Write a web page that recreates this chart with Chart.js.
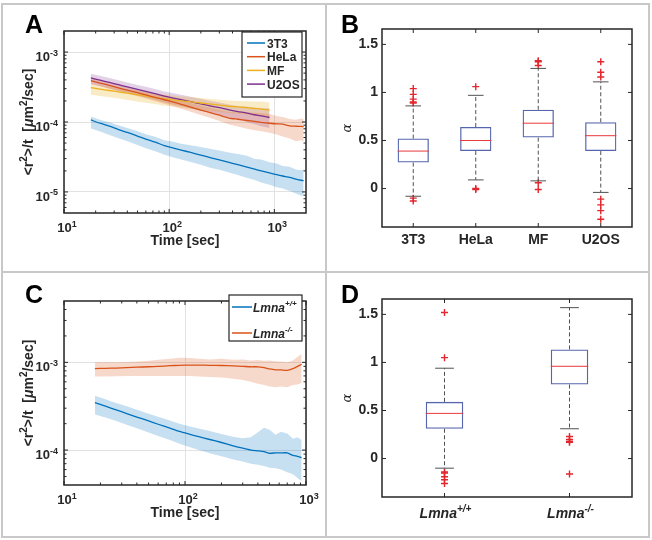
<!DOCTYPE html>
<html>
<head>
<meta charset="utf-8">
<script src="https://cdn.jsdelivr.net/npm/chart.js@4.4.1/dist/chart.umd.min.js"></script>
<style>
  body { margin: 0; background: #fff; }
  #fig { position: relative; width: 652px; height: 540px; }
  .rule { position: absolute; background: #c8c8c8; }
  canvas { position: absolute; }
</style>
</head>
<body>
<div id="fig">
  <div class="rule" style="left:1px;top:3px;width:648px;height:2px"></div>
  <div class="rule" style="left:1px;top:536px;width:648px;height:2px"></div>
  <div class="rule" style="left:1px;top:3px;width:2px;height:535px"></div>
  <div class="rule" style="left:648px;top:3px;width:2px;height:535px"></div>
  <div class="rule" style="left:325px;top:3px;width:2px;height:535px"></div>
  <div class="rule" style="left:1px;top:271px;width:648px;height:2px"></div>
  <canvas id="chartA" width="326" height="272" style="left:0;top:0"></canvas>
  <canvas id="chartB" width="326" height="272" style="left:326px;top:0"></canvas>
  <canvas id="chartC" width="326" height="268" style="left:0;top:272px"></canvas>
  <canvas id="chartD" width="326" height="268" style="left:326px;top:272px"></canvas>
</div>
<script>
// ---------- panel A: <r^2>/t vs time, four cell lines ----------
const tA = [18, 22, 27, 33, 40, 50, 60, 75, 90, 110, 130, 160, 200, 250, 300, 370, 450, 550, 650, 750, 900, 1050, 1200, 1400, 1600, 1800, 1900];
const mean3T3 = [1.07e-4, 9.6e-5, 8.7e-5, 7.8e-5, 7.1e-5, 6.3e-5, 5.7e-5, 5.1e-5, 4.6e-5, 4.24e-5, 3.97e-5, 3.67e-5, 3.36e-5, 3.08e-5, 2.87e-5, 2.64e-5, 2.45e-5, 2.26e-5, 2.12e-5, 2.0e-5, 1.87e-5, 1.77e-5, 1.69e-5, 1.61e-5, 1.53e-5, 1.47e-5, 1.45e-5];
const hi3T3 = [1.2e-4, 1.08e-4, 9.9e-5, 9.0e-5, 8.2e-5, 7.4e-5, 6.7e-5, 6.1e-5, 5.5e-5, 5.2e-5, 4.9e-5, 4.65e-5, 4.4e-5, 4.1e-5, 3.9e-5, 3.65e-5, 3.5e-5, 3.3e-5, 2.95e-5, 2.9e-5, 2.65e-5, 2.55e-5, 2.35e-5, 2.3e-5, 2.1e-5, 2.05e-5, 2.1e-5];
const lo3T3 = [8.1e-5, 7.3e-5, 6.5e-5, 5.85e-5, 5.3e-5, 4.7e-5, 4.2e-5, 3.8e-5, 3.4e-5, 3.1e-5, 2.9e-5, 2.68e-5, 2.45e-5, 2.2e-5, 2.07e-5, 1.9e-5, 1.74e-5, 1.58e-5, 1.48e-5, 1.36e-5, 1.27e-5, 1.17e-5, 1.12e-5, 1.03e-5, 9.5e-6, 8.8e-6, 9.0e-6];
const meanHeLa = [3.9e-4, 3.61e-4, 3.33e-4, 3.08e-4, 2.85e-4, 2.62e-4, 2.44e-4, 2.23e-4, 2.08e-4, 1.92e-4, 1.79e-4, 1.63e-4, 1.48e-4, 1.35e-4, 1.25e-4, 1.14e-4, 1.095e-4, 1.05e-4, 1.02e-4, 9.9e-5, 9.6e-5, 9.4e-5, 9.3e-5, 8.8e-5, 8.7e-5, 8.65e-5, 8.6e-5];
const hiHeLa = [4.3e-4, 3.98e-4, 3.67e-4, 3.4e-4, 3.15e-4, 2.9e-4, 2.72e-4, 2.5e-4, 2.34e-4, 2.17e-4, 2.03e-4, 1.87e-4, 1.72e-4, 1.6e-4, 1.5e-4, 1.4e-4, 1.38e-4, 1.36e-4, 1.37e-4, 1.33e-4, 1.3e-4, 1.22e-4, 1.18e-4, 1.1e-4, 1.08e-4, 1.12e-4, 1.1e-4];
const loHeLa = [3.5e-4, 3.25e-4, 2.99e-4, 2.76e-4, 2.55e-4, 2.33e-4, 2.16e-4, 1.96e-4, 1.82e-4, 1.67e-4, 1.55e-4, 1.4e-4, 1.26e-4, 1.13e-4, 1.03e-4, 9.2e-5, 8.6e-5, 8.0e-5, 7.6e-5, 7.4e-5, 7.0e-5, 6.6e-5, 6.2e-5, 5.8e-5, 5.3e-5, 5.5e-5, 5.2e-5];
const meanMF = [3.1e-4, 2.96e-4, 2.82e-4, 2.7e-4, 2.58e-4, 2.45e-4, 2.35e-4, 2.23e-4, 2.14e-4, 2.07e-4, 2.0e-4, 1.94e-4, 1.87e-4, 1.8e-4, 1.74e-4, 1.68e-4, 1.64e-4, 1.6e-4, 1.56e-4, 1.53e-4, 1.48e-4];
const hiMF = [3.5e-4, 3.35e-4, 3.2e-4, 3.07e-4, 2.94e-4, 2.8e-4, 2.69e-4, 2.56e-4, 2.47e-4, 2.4e-4, 2.33e-4, 2.27e-4, 2.2e-4, 2.14e-4, 2.08e-4, 2.03e-4, 2.0e-4, 1.98e-4, 1.96e-4, 1.97e-4, 1.9e-4];
const loMF = [2.45e-4, 2.35e-4, 2.25e-4, 2.16e-4, 2.07e-4, 1.96e-4, 1.88e-4, 1.79e-4, 1.71e-4, 1.66e-4, 1.6e-4, 1.55e-4, 1.5e-4, 1.44e-4, 1.39e-4, 1.34e-4, 1.31e-4, 1.28e-4, 1.24e-4, 1.22e-4, 1.18e-4];
const meanU2OS = [4.27e-4, 3.97e-4, 3.68e-4, 3.41e-4, 3.18e-4, 2.93e-4, 2.74e-4, 2.52e-4, 2.35e-4, 2.2e-4, 2.09e-4, 1.95e-4, 1.82e-4, 1.69e-4, 1.6e-4, 1.49e-4, 1.41e-4, 1.34e-4, 1.27e-4, 1.22e-4, 1.16e-4];
const hiU2OS = [4.9e-4, 4.57e-4, 4.24e-4, 3.94e-4, 3.67e-4, 3.39e-4, 3.18e-4, 2.93e-4, 2.74e-4, 2.57e-4, 2.45e-4, 2.29e-4, 2.15e-4, 2.0e-4, 1.9e-4, 1.78e-4, 1.7e-4, 1.66e-4, 1.6e-4, 1.58e-4, 1.57e-4];
const loU2OS = [3.5e-4, 3.26e-4, 3.02e-4, 2.79e-4, 2.6e-4, 2.39e-4, 2.23e-4, 2.04e-4, 1.9e-4, 1.77e-4, 1.68e-4, 1.56e-4, 1.45e-4, 1.34e-4, 1.26e-4, 1.16e-4, 1.09e-4, 1.0e-4, 9.3e-5, 8.7e-5, 8.2e-5];
const namesA = ['3T3', 'HeLa', 'MF', 'U2OS'];
const xTicksA = [10, 100, 1000];
const yTicksA = [1e-5, 1e-4, 1e-3];

// ---------- panel B: alpha per cell line ----------
const catsB = ['3T3', 'HeLa', 'MF', 'U2OS'];
const q1B = [0.27, 0.39, 0.53, 0.39];
const q3B = [0.52, 0.64, 0.82, 0.69];
const medB = [0.39, 0.50, 0.68, 0.55];
const whiskLoB = [-0.08, 0.09, 0.08, -0.04];
const whiskHiB = [0.86, 0.97, 1.25, 1.11];
const out3T3 = [1.04, 0.98, 0.93, 0.90, 0.89, -0.10, -0.13];
const outHeLa = [1.06, 0.0, -0.01];
const outMF = [1.33, 1.32, 1.28, 0.06, -0.01];
const outU2OS = [1.32, 1.21, 1.16, -0.11, -0.17, -0.23, -0.32];
const yTicksBox = [0, 0.5, 1, 1.5];

// ---------- panel C: Lmna wild type vs knockout ----------
const tC = [18, 22, 27, 33, 40, 50, 60, 75, 90, 110, 130, 160, 200, 250, 300, 350, 400, 450, 500, 560, 620, 700, 780, 850, 920];
const meanWT = [3.47e-4, 3.16e-4, 2.87e-4, 2.61e-4, 2.38e-4, 2.15e-4, 1.97e-4, 1.78e-4, 1.63e-4, 1.51e-4, 1.42e-4, 1.32e-4, 1.22e-4, 1.12e-4, 1.05e-4, 1.0e-4, 9.8e-5, 9.6e-5, 9.2e-5, 9.3e-5, 9.3e-5, 9.3e-5, 8.7e-5, 8.5e-5, 8.2e-5];
const hiWT = [4.15e-4, 3.8e-4, 3.45e-4, 3.15e-4, 2.88e-4, 2.6e-4, 2.4e-4, 2.17e-4, 2.0e-4, 1.86e-4, 1.76e-4, 1.65e-4, 1.53e-4, 1.42e-4, 1.36e-4, 1.4e-4, 1.6e-4, 1.8e-4, 1.7e-4, 1.5e-4, 1.62e-4, 1.55e-4, 1.35e-4, 1.4e-4, 1.3e-4];
const loWT = [2.55e-4, 2.35e-4, 2.14e-4, 1.95e-4, 1.77e-4, 1.59e-4, 1.45e-4, 1.3e-4, 1.18e-4, 1.08e-4, 1.0e-4, 9.2e-5, 8.5e-5, 7.8e-5, 7.4e-5, 7.0e-5, 6.8e-5, 6.6e-5, 6.3e-5, 6.2e-5, 6.0e-5, 5.6e-5, 5.3e-5, 4.8e-5, 4.4e-5];
const meanKO = [8.5e-4, 8.55e-4, 8.6e-4, 8.7e-4, 8.8e-4, 8.9e-4, 9.0e-4, 9.15e-4, 9.25e-4, 9.3e-4, 9.3e-4, 9.25e-4, 9.2e-4, 9.1e-4, 9.0e-4, 8.9e-4, 8.9e-4, 8.7e-4, 8.4e-4, 8.2e-4, 8.2e-4, 8.1e-4, 8.5e-4, 9.0e-4, 9.5e-4];
const hiKO = [1.0e-3, 1.0e-3, 1.0e-3, 1.01e-3, 1.02e-3, 1.04e-3, 1.07e-3, 1.1e-3, 1.13e-3, 1.12e-3, 1.1e-3, 1.08e-3, 1.1e-3, 1.07e-3, 1.08e-3, 1.05e-3, 1.06e-3, 1.04e-3, 1.05e-3, 1.03e-3, 1.02e-3, 1.0e-3, 1.05e-3, 1.15e-3, 1.25e-3];
const loKO = [6.9e-4, 6.9e-4, 6.95e-4, 7.0e-4, 7.0e-4, 7.0e-4, 7.0e-4, 7.0e-4, 7.0e-4, 7.0e-4, 6.9e-4, 6.8e-4, 6.7e-4, 6.5e-4, 6.3e-4, 6.0e-4, 5.7e-4, 5.5e-4, 5.3e-4, 5.2e-4, 5.3e-4, 5.2e-4, 5.5e-4, 5.6e-4, 5.8e-4];
const namesC = ['Lmna+/+', 'Lmna-/-'];
const xTicksC = [10, 100, 1000];
const yTicksC = [1e-4, 1e-3];

// ---------- panel D: alpha for Lmna ----------
const catsD = ['Lmna+/+', 'Lmna-/-'];
const q1D = [0.31, 0.77];
const q3D = [0.59, 1.135];
const medD = [0.47, 0.96];
const whiskLoD = [-0.10, 0.31];
const whiskHiD = [0.94, 1.57];
const outWT = [1.52, 1.05, -0.14, -0.15, -0.19, -0.22, -0.26];
const outKO = [0.23, 0.20, 0.18, 0.17, -0.16];

const FONT = "'Liberation Sans', Arial, sans-serif";
const INK = '#262626';
const GRID = '#e2e2e2';
const LINE_COLORS = ['#0072BD', '#D95319', '#EDB120', '#7E2F8E'];
const BAND_COLORS = ['rgba(0,114,189,0.22)', 'rgba(217,83,25,0.22)', 'rgba(237,177,32,0.25)', 'rgba(126,47,142,0.22)'];

function xy(t, arr) {
    return arr.map((v, i) => ({ x: t[i], y: v }));
}

function logMinor(min, max) {
    const out = [];
    for (let e = Math.floor(Math.log10(min)); e <= Math.ceil(Math.log10(max)); e++) {
        for (let m = 2; m <= 9; m++) {
            const v = m * Math.pow(10, e);
            if (v > min && v < max) out.push(v);
        }
    }
    return out;
}

// text made of pieces, some of them superscript / italic
function rich(ctx, segs, x, y, align, size) {
    const fontOf = s => `${s.it ? 'italic ' : ''}bold ${s.sup ? Math.round(size * 0.7) : size}px ${FONT}`;
    let w = 0;
    const widths = segs.map(s => { ctx.font = fontOf(s); const m = ctx.measureText(s.t).width; w += m; return m; });
    let cx = align === 'center' ? x - w / 2 : align === 'right' ? x - w : x;
    ctx.textAlign = 'left';
    ctx.textBaseline = 'alphabetic';
    segs.forEach((s, i) => {
        ctx.font = fontOf(s);
        ctx.fillText(s.t, cx, s.sup ? y - size * 0.42 : y);
        cx += widths[i];
    });
}

function drawFrame(ctx, a, xs, xsMinor, ys, ysMinor) {
    ctx.save();
    ctx.strokeStyle = INK;
    ctx.lineWidth = 1;
    ctx.beginPath();
    const vt = (px, len) => {
        ctx.moveTo(px, a.bottom); ctx.lineTo(px, a.bottom - len);
        ctx.moveTo(px, a.top); ctx.lineTo(px, a.top + len);
    };
    const ht = (py, len) => {
        ctx.moveTo(a.left, py); ctx.lineTo(a.left + len, py);
        ctx.moveTo(a.right, py); ctx.lineTo(a.right - len, py);
    };
    xs.forEach(p => vt(p, 4));
    xsMinor.forEach(p => vt(p, 2.5));
    ys.forEach(p => ht(p, 4));
    ysMinor.forEach(p => ht(p, 2.5));
    ctx.stroke();
    ctx.lineWidth = 1.5;
    ctx.strokeRect(a.left, a.top, a.right - a.left, a.bottom - a.top);
    ctx.restore();
}

function letter(ctx, ch, x, y) {
    ctx.save();
    ctx.fillStyle = '#000';
    ctx.font = `bold 25px ${FONT}`;
    ctx.textAlign = 'left';
    ctx.textBaseline = 'alphabetic';
    ctx.fillText(ch, x, y);
    ctx.restore();
}

function splitName(name) {
    return [{ t: name.slice(0, 4), it: true }, { t: name.slice(4), it: true, sup: true }];
}

// decorations for the two log-log panels
function logPanel(id, xTicks, yTicks, xRange, yRange, legend, ch, ly) {
    return {
        id: id,
        afterDraw(chart) {
            const { ctx, chartArea: a, scales: { x, y } } = chart;
            drawFrame(ctx, a,
                xTicks.map(v => x.getPixelForValue(v)),
                logMinor(xRange[0], xRange[1]).map(v => x.getPixelForValue(v)),
                yTicks.map(v => y.getPixelForValue(v)),
                logMinor(yRange[0], yRange[1]).map(v => y.getPixelForValue(v)));
            ctx.save();
            ctx.fillStyle = INK;
            xTicks.forEach(v => rich(ctx, [{ t: '10' }, { t: String(Math.round(Math.log10(v))), sup: true }],
                x.getPixelForValue(v) + 3, a.bottom + 19, 'center', 13));
            yTicks.forEach(v => rich(ctx, [{ t: '10' }, { t: String(Math.round(Math.log10(v))), sup: true }],
                a.left - 6, y.getPixelForValue(v) + 9, 'right', 13));
            rich(ctx, [{ t: 'Time [sec]' }], (a.left + a.right) / 2, a.bottom + 32, 'center', 14);
            ctx.translate(33, (a.top + a.bottom) / 2);
            ctx.rotate(-Math.PI / 2);
            rich(ctx, [{ t: '<r' }, { t: '2', sup: true }, { t: '>/t  [' }, { t: 'μ', it: true }, { t: 'm' },
                { t: '2', sup: true }, { t: '/sec]' }], 0, 0, 'center', 14);
            ctx.restore();
            legend(ctx, chart);
            letter(ctx, ch, 25, ly);
        }
    };
}

function legendA(ctx) {
    ctx.save();
    ctx.fillStyle = '#fff';
    ctx.fillRect(242, 32, 60, 65);
    ctx.strokeStyle = INK;
    ctx.lineWidth = 1.2;
    ctx.strokeRect(242, 32, 60, 65);
    namesA.forEach((n, i) => {
        const ry = 43 + i * 13.7;
        ctx.strokeStyle = LINE_COLORS[i];
        ctx.lineWidth = 1.5;
        ctx.beginPath(); ctx.moveTo(247, ry); ctx.lineTo(265, ry); ctx.stroke();
        ctx.fillStyle = INK;
        rich(ctx, [{ t: n }], 267, ry + 4.5, 'left', 12);
    });
    ctx.restore();
}

function legendC(ctx) {
    ctx.save();
    ctx.fillStyle = '#fff';
    ctx.fillRect(229, 23, 73, 46);
    ctx.strokeStyle = INK;
    ctx.lineWidth = 1.2;
    ctx.strokeRect(229, 23, 73, 46);
    namesC.forEach((n, i) => {
        const ry = 35 + i * 26;
        ctx.strokeStyle = LINE_COLORS[i];
        ctx.lineWidth = 1.5;
        ctx.beginPath(); ctx.moveTo(232, ry); ctx.lineTo(252, ry); ctx.stroke();
        ctx.fillStyle = INK;
        rich(ctx, splitName(n), 253, ry + 4.5, 'left', 12);
    });
    ctx.restore();
}

function bandSets(t, lo, hi, mean, k) {
    return {
        bands: [
            { data: xy(t, lo), borderWidth: 0, pointRadius: 0, fill: false, order: 2 },
            { data: xy(t, hi), borderWidth: 0, pointRadius: 0, fill: '-1', backgroundColor: BAND_COLORS[k], order: 2 }
        ],
        line: { data: xy(t, mean), borderColor: LINE_COLORS[k], borderWidth: 1.3, pointRadius: 0, fill: false, tension: 0.2, order: 0 }
    };
}

function logOptions(xMin, xMax, yMin, yMax, xTicks, yTicks, pad, yW, xH) {
    return {
        responsive: false,
        animation: false,
        devicePixelRatio: 1,
        layout: { padding: pad },
        plugins: { legend: { display: false }, tooltip: { enabled: false } },
        scales: {
            x: {
                type: 'logarithmic', min: xMin, max: xMax,
                afterBuildTicks: s => { s.ticks = xTicks.map(v => ({ value: v })); },
                afterFit: s => { s.height = xH; },
                ticks: { display: false },
                grid: { color: GRID, drawTicks: false },
                border: { display: false }
            },
            y: {
                type: 'logarithmic', min: yMin, max: yMax,
                afterBuildTicks: s => { s.ticks = yTicks.map(v => ({ value: v })); },
                afterFit: s => { s.width = yW; },
                ticks: { display: false },
                grid: { color: GRID, drawTicks: false },
                border: { display: false }
            }
        }
    };
}

// ---- chart A ----
const setsA = [
    bandSets(tA, lo3T3, hi3T3, mean3T3, 0),
    bandSets(tA, loHeLa, hiHeLa, meanHeLa, 1),
    bandSets(tA, loMF, hiMF, meanMF, 2),
    bandSets(tA, loU2OS, hiU2OS, meanU2OS, 3)
];
new Chart(document.getElementById('chartA'), {
    type: 'line',
    data: { datasets: setsA.flatMap(s => s.bands).concat(setsA.map(s => s.line)) },
    options: logOptions(10, 2000, 5e-6, 2e-3, xTicksA, yTicksA, { top: 31, right: 20, left: 0, bottom: 0 }, 64, 59),
    plugins: [logPanel('decoA', xTicksA, yTicksA, [10, 2000], [5e-6, 2e-3], legendA, 'A', 33)]
});

// ---- chart C ----
const setsC = [
    bandSets(tC, loWT, hiWT, meanWT, 0),
    bandSets(tC, loKO, hiKO, meanKO, 1)
];
new Chart(document.getElementById('chartC'), {
    type: 'line',
    data: { datasets: setsC.flatMap(s => s.bands).concat(setsC.map(s => s.line)) },
    options: logOptions(10, 1000, 4e-5, 5e-3, xTicksC, yTicksC, { top: 29, right: 20, left: 0, bottom: 0 }, 64, 55),
    plugins: [logPanel('decoC', xTicksC, yTicksC, [10, 1000], [4e-5, 5e-3], legendC, 'C', 31)]
});

// ---- box plots ----
function boxPlugin(id, cats, q1, q3, med, wLo, wHi, ch, ly, italicCats) {
    return {
        id: id,
        afterDatasetsDraw(chart) {
            const { ctx, scales: { x, y } } = chart;
            const bars = chart.getDatasetMeta(0).data;
            ctx.save();
            cats.forEach((c, i) => {
                const cx = x.getPixelForValue(i);
                const hw = bars[i].width / 2;
                // whiskers
                ctx.strokeStyle = '#505050';
                ctx.lineWidth = 1;
                ctx.setLineDash([4, 2.5]);
                ctx.beginPath();
                ctx.moveTo(cx, y.getPixelForValue(q3[i])); ctx.lineTo(cx, y.getPixelForValue(wHi[i]));
                ctx.moveTo(cx, y.getPixelForValue(q1[i])); ctx.lineTo(cx, y.getPixelForValue(wLo[i]));
                ctx.stroke();
                ctx.setLineDash([]);
                ctx.beginPath();
                ctx.moveTo(cx - hw / 2, y.getPixelForValue(wHi[i])); ctx.lineTo(cx + hw / 2, y.getPixelForValue(wHi[i]));
                ctx.moveTo(cx - hw / 2, y.getPixelForValue(wLo[i])); ctx.lineTo(cx + hw / 2, y.getPixelForValue(wLo[i]));
                ctx.stroke();
                // median
                ctx.strokeStyle = '#e8383a';
                ctx.beginPath();
                ctx.moveTo(cx - hw, y.getPixelForValue(med[i])); ctx.lineTo(cx + hw, y.getPixelForValue(med[i]));
                ctx.stroke();
            });
            ctx.restore();
        },
        afterDraw(chart) {
            const { ctx, chartArea: a, scales: { x, y } } = chart;
            drawFrame(ctx, a, cats.map((c, i) => x.getPixelForValue(i)), [], yTicksBox.map(v => y.getPixelForValue(v)), []);
            ctx.save();
            ctx.fillStyle = INK;
            if (italicCats) {
                cats.forEach((c, i) => rich(ctx, splitName(c), x.getPixelForValue(i) + 1, a.bottom + 21, 'center', 14));
            }
            ctx.translate(25, (a.top + a.bottom) / 2);
            ctx.rotate(-Math.PI / 2);
            ctx.font = "italic 13px 'DejaVu Serif', serif";
            ctx.textAlign = 'center';
            ctx.textBaseline = 'alphabetic';
            ctx.fillText('α', 0, 0);
            ctx.restore();
            letter(ctx, ch, 15, ly);
        }
    };
}

function outlierData(cats, lists) {
    return lists.flatMap((list, i) => list.map(v => ({ x: cats[i], y: v })));
}

function boxOptions(pad, xH, showCats) {
    return {
        responsive: false,
        animation: false,
        devicePixelRatio: 1,
        layout: { padding: pad },
        plugins: { legend: { display: false }, tooltip: { enabled: false } },
        scales: {
            x: {
                type: 'category',
                afterFit: s => { s.height = xH; },
                ticks: {
                    display: true, color: INK, padding: 5,
                    font: { family: FONT, size: 14, weight: 'bold' },
                    callback: function (v) { return showCats ? this.getLabelForValue(v) : ''; }
                },
                grid: { display: false, drawTicks: false },
                border: { display: false }
            },
            y: {
                type: 'linear', min: -0.4, max: 1.66,
                afterBuildTicks: s => { s.ticks = yTicksBox.map(v => ({ value: v })); },
                afterFit: s => { s.width = 56; },
                ticks: {
                    color: INK, padding: 4, font: { family: FONT, size: 14, weight: 'bold' },
                    callback: v => String(v)
                },
                grid: { display: false, drawTicks: false },
                border: { display: false }
            }
        }
    };
}

new Chart(document.getElementById('chartB'), {
    type: 'bar',
    data: {
        labels: catsB,
        datasets: [
            {
                data: q1B.map((q, i) => [q, q3B[i]]),
                backgroundColor: 'rgba(255,255,255,0)', borderColor: '#5566ad', borderWidth: 1.3,
                borderSkipped: false, barPercentage: 1, categoryPercentage: 0.5, order: 2
            },
            {
                type: 'scatter',
                data: outlierData(catsB, [out3T3, outHeLa, outMF, outU2OS]),
                pointStyle: 'cross', pointRadius: 3.5, borderColor: '#e3262d', borderWidth: 1.4, order: 0
            }
        ]
    },
    options: boxOptions({ top: 29, right: 20, left: 0, bottom: 0 }, 45, true),
    plugins: [boxPlugin('boxB', catsB, q1B, q3B, medB, whiskLoB, whiskHiB, 'B', 33, false)]
});

new Chart(document.getElementById('chartD'), {
    type: 'bar',
    data: {
        labels: catsD,
        datasets: [
            {
                data: q1D.map((q, i) => [q, q3D[i]]),
                backgroundColor: 'rgba(255,255,255,0)', borderColor: '#5566ad', borderWidth: 1.3,
                borderSkipped: false, barPercentage: 1, categoryPercentage: 0.3, order: 2
            },
            {
                type: 'scatter',
                data: outlierData(catsD, [outWT, outKO]),
                pointStyle: 'cross', pointRadius: 3.5, borderColor: '#e3262d', borderWidth: 1.4, order: 0
            }
        ]
    },
    options: boxOptions({ top: 27, right: 20, left: 0, bottom: 0 }, 43, false),
    plugins: [boxPlugin('boxD', catsD, q1D, q3D, medD, whiskLoD, whiskHiD, 'D', 31, true)]
});
</script>
</body>
</html>
